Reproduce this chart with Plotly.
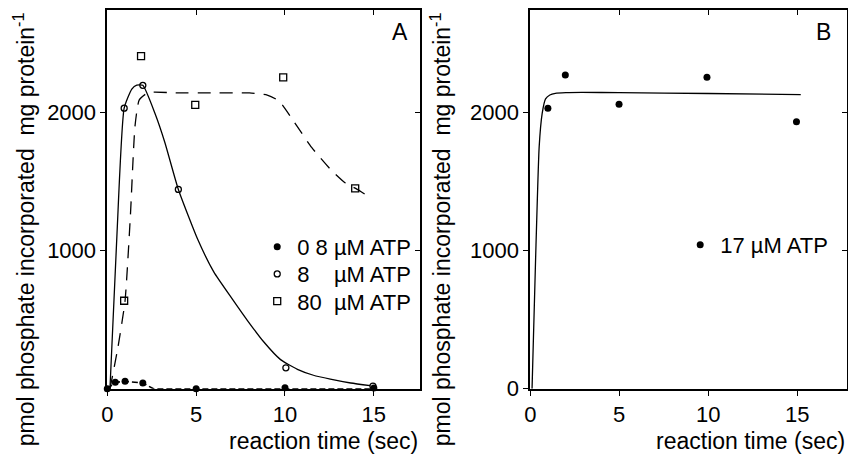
import plotly.graph_objects as go

# ---------------- data ----------------
# Panel A: measured points
t_08 = [0, 0.45, 1.0, 2.0, 5.0, 10.0, 15.0]
p_08 = [0, 47, 54, 42, 0, 8, 5]
t_8 = [0.95, 2.0, 4.0, 10.05, 14.95]
p_8 = [2030, 2195, 1442, 152, 20]
t_80 = [0.95, 1.9, 4.95, 9.9, 13.95]
p_80 = [637, 2406, 2054, 2252, 1450]

# Panel A: fitted curves
c08_t = [0, 0.45, 1.0, 2.0, 2.6, 5.0, 10.0, 15.0]
c08_p = [0, 47, 54, 42, 0, 0, 0, 0]
c8_t = [0.15, 0.55, 0.95, 1.38, 1.66, 2.0, 2.68, 3.24, 4.0, 5.1, 6.0, 7.0, 7.9,
        8.8, 9.75, 10.7, 11.6, 12.55, 13.7, 14.8]
c8_p = [0, 1130, 2030, 2168, 2197, 2195, 1993, 1782, 1442, 1078, 844, 656, 492,
        340, 211, 141, 98, 70, 42, 23]
c80_t = [0.15, 0.6, 1.0, 1.3, 1.56, 1.8, 2.3, 4.0, 6.0, 8.0, 9.0, 9.5, 9.8, 10.5,
         11.5, 12.6, 13.4, 14.0, 14.8]
c80_p = [0, 300, 637, 1250, 1900, 2090, 2142, 2140, 2140, 2140, 2125, 2095, 2062,
         1933, 1746, 1582, 1488, 1448, 1383]

# Panel B: measured points and fitted curve
t_17 = [0.99, 1.97, 4.99, 9.93, 14.96]
p_17 = [2030, 2270, 2058, 2254, 1932]
c17_t = [0.1, 0.3, 0.5, 0.67, 0.86, 1.1, 1.41, 2.0, 2.9, 5.0, 10.0, 15.2]
c17_p = [0, 940, 1750, 1992, 2097, 2125, 2137, 2142, 2144, 2142, 2136, 2128]

# labels
names_A = ["0\u00a08\u00a0µM ATP", "8\u00a0\u00a0\u00a0\u00a0µM ATP", "80\u00a0\u00a0µM ATP"]
name_B = "17 µM ATP"
x_ticks = [0, 5, 10, 15]
y_ticks_A = [1000, 2000]
y_ticks_B = [0, 1000, 2000]
y_title = "pmol phosphate incorporated\u00a0\u00a0mg protein<sup>-1</sup>"
x_title = "reaction time (sec)"

# ---------------- figure ----------------
FONT = "Liberation Sans, Arial, sans-serif"
W, H = 848, 464
fig = go.Figure()

# curves (panel A)
fig.add_trace(go.Scatter(x=c08_t, y=c08_p, mode="lines", xaxis="x", yaxis="y",
                         line=dict(color="black", width=1.6, dash="6px,3px"),
                         showlegend=False, hoverinfo="skip"))
fig.add_trace(go.Scatter(x=c8_t, y=c8_p, mode="lines", xaxis="x", yaxis="y",
                         line=dict(color="black", width=1.3, shape="spline", smoothing=0.5),
                         showlegend=False, hoverinfo="skip"))
fig.add_trace(go.Scatter(x=c80_t, y=c80_p, mode="lines", xaxis="x", yaxis="y",
                         line=dict(color="black", width=1.3, dash="13px,9px",
                                   shape="spline", smoothing=0.5),
                         showlegend=False, hoverinfo="skip"))
# points (panel A) - each in its own legend so the rows can be spaced like the original
fig.add_trace(go.Scatter(x=t_08, y=p_08, mode="markers", name=names_A[0], xaxis="x", yaxis="y",
                         marker=dict(symbol="circle", size=7, color="black"),
                         cliponaxis=False, legend="legend"))
fig.add_trace(go.Scatter(x=t_8, y=p_8, mode="markers", name=names_A[1], xaxis="x", yaxis="y",
                         marker=dict(symbol="circle-open", size=6, color="black",
                                     line=dict(width=1.3)),
                         cliponaxis=False, legend="legend3"))
fig.add_trace(go.Scatter(x=t_80, y=p_80, mode="markers", name=names_A[2], xaxis="x", yaxis="y",
                         marker=dict(symbol="square-open", size=7, color="black",
                                     line=dict(width=1.3)),
                         cliponaxis=False, legend="legend4"))

# panel B
fig.add_trace(go.Scatter(x=c17_t, y=c17_p, mode="lines", xaxis="x2", yaxis="y2",
                         line=dict(color="black", width=1.3, shape="spline", smoothing=0.5),
                         showlegend=False, hoverinfo="skip"))
fig.add_trace(go.Scatter(x=t_17, y=p_17, mode="markers", name=name_B, xaxis="x2", yaxis="y2",
                         marker=dict(symbol="circle", size=7, color="black"),
                         cliponaxis=False, legend="legend2"))

# empty traces for the mirrored (inside-tick) axes
fig.add_trace(go.Scatter(x=[], y=[], xaxis="x3", yaxis="y3", showlegend=False))
fig.add_trace(go.Scatter(x=[], y=[], xaxis="x4", yaxis="y4", showlegend=False))

dom_y = [(H - 400) / H, (H - 10) / H]
domA = [102 / W, 417 / W]
domB = [528 / W, 847 / W]
rngA = [0, 17.6]
rngB = [0, 17.8]
rngY = [0, 2742]

TICKFONT = dict(family=FONT, size=22, color="black")
ax_common = dict(showline=True, linecolor="black", linewidth=1.6, showgrid=False,
                 zeroline=False, ticks="outside", ticklen=5, tickwidth=1.4,
                 tickcolor="black", tickfont=TICKFONT)
mir_common = dict(showline=True, linecolor="black", linewidth=1.6, showgrid=False,
                  zeroline=False, ticks="inside", ticklen=5, tickwidth=1.4,
                  tickcolor="black", showticklabels=False)

LEGFONT = dict(family=FONT, size=22, color="black")
def leg(xpx, ypx):
    return dict(x=xpx / W, y=1 - ypx / H, xanchor="left", yanchor="middle",
                bgcolor="rgba(0,0,0,0)", borderwidth=0, font=LEGFONT)

TITLEFONT = dict(family=FONT, size=23, color="black")
fig.update_layout(
    width=W, height=H,
    margin=dict(l=0, r=0, t=0, b=0),
    paper_bgcolor="white", plot_bgcolor="white",
    font=dict(family=FONT, size=22, color="black"),
    xaxis=dict(domain=domA, range=rngA, anchor="y", tickvals=x_ticks, **ax_common),
    yaxis=dict(domain=dom_y, range=rngY, anchor="x", tickvals=y_ticks_A, **ax_common),
    xaxis2=dict(domain=domB, range=rngB, anchor="y2", tickvals=x_ticks, **ax_common),
    yaxis2=dict(domain=dom_y, range=rngY, anchor="x2", tickvals=y_ticks_B, **ax_common),
    xaxis3=dict(overlaying="x", side="top", anchor="y", range=rngA, tickvals=x_ticks, **mir_common),
    yaxis3=dict(overlaying="y", side="right", anchor="x", range=rngY, tickvals=y_ticks_A, **mir_common),
    xaxis4=dict(overlaying="x2", side="top", anchor="y2", range=rngB, tickvals=x_ticks, **mir_common),
    yaxis4=dict(overlaying="y2", side="right", anchor="x2", range=rngY, tickvals=y_ticks_A, **mir_common),
    legend=leg(253, 254),
    legend3=leg(253, 282),
    legend4=leg(253, 310),
    legend2=leg(679, 252),
    annotations=[
        dict(text=y_title, textangle=-90, x=19 / W, y=1 - 236 / H, xref="paper", yref="paper",
             xanchor="center", yanchor="middle", showarrow=False, font=TITLEFONT),
        dict(text=y_title, textangle=-90, x=438 / W, y=1 - 236 / H, xref="paper", yref="paper",
             xanchor="center", yanchor="middle", showarrow=False, font=TITLEFONT),
        dict(text=x_title, x=417 / W, y=1 - 454 / H, xref="paper", yref="paper",
             xanchor="right", yanchor="middle", showarrow=False, font=TITLEFONT),
        dict(text=x_title, x=847 / W, y=1 - 454 / H, xref="paper", yref="paper",
             xanchor="right", yanchor="middle", showarrow=False, font=TITLEFONT),
        dict(text="A", x=397 / W, y=1 - 33 / H, xref="paper", yref="paper",
             xanchor="center", yanchor="middle", showarrow=False, font=TITLEFONT),
        dict(text="B", x=823 / W, y=1 - 33 / H, xref="paper", yref="paper",
             xanchor="center", yanchor="middle", showarrow=False, font=TITLEFONT),
    ],
)

fig.write_html("out.html")
